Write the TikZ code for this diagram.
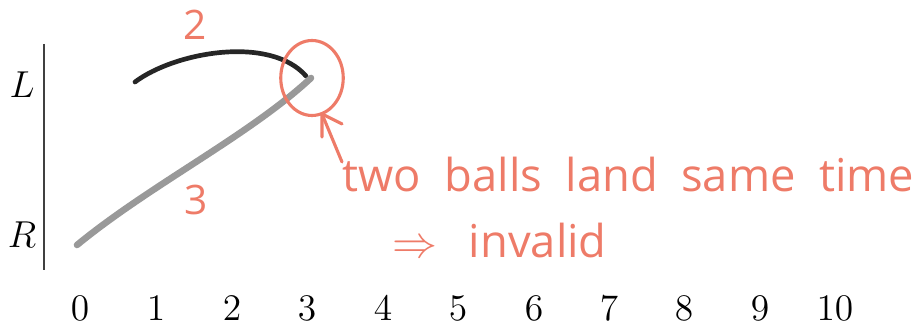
\documentclass[tikz,border=0pt]{standalone}
\usepackage{fontspec}
\usetikzlibrary{shapes.geometric}
\newfontfamily\handfont{Open Sans}
\definecolor{salmon}{HTML}{EE7B68}
\newcommand{\wsp}{\hspace{7.5pt}}
\tikzset{
  every node/.style={inner sep=0pt},
  axislabel/.style={font=\fontsize{12.5}{15}\selectfont},
  ticklabel/.style={font=\fontsize{12.5}{15}\selectfont},
  pencildark/.style={draw=black!85, line width=1.5pt, line cap=round, line join=round},
  pencillight/.style={draw=black!40, line width=2.1pt, line cap=round, line join=round},
  marker/.style={draw=salmon, line width=1pt, line cap=round, line join=round},
  handnote/.style={text=salmon, font=\handfont\fontsize{14.5}{17}\selectfont, anchor=base west},
  handnum/.style={text=salmon, font=\handfont\fontsize{13}{15}\selectfont}
}
\begin{document}
\begin{tikzpicture}[x=0.32pt, y=-0.32pt]
\useasboundingbox (0,0) rectangle (917,326);
% axis
\coordinate (atop) at (44,44);
\coordinate (abot) at (44,270);
\draw[black!75, line width=0.5pt] (atop) -- (abot);
\node[axislabel] (L) at (22,85) {$L$};
\node[axislabel] (R) at (22,235) {$R$};
% ticks
\foreach \i/\x in {0/80,1/156,2/232,3/307,4/383,5/458,6/534,7/609,8/684,9/760,10/835}{
  \node[ticklabel] (t\i) at (\x,308) {$\i$};
}
% trajectories
\coordinate (s2) at (135,82);
\coordinate (land) at (311,78);
\coordinate (s3) at (77,245);
\draw[pencildark] (s2) .. controls (175,52) and (270,35) .. (306,76);
\draw[pencillight] (s3) .. controls (150,185) and (250,135) .. (land);
\node[handnum] (n2) at (195,25) {2};
\node[handnum] (n3) at (196,200) {3};
% circle
\node[marker, ellipse, minimum width=20pt, minimum height=24pt, draw] (ring) at (312,78) {};
% arrow
\coordinate (tip) at (322,114);
\coordinate (tail) at (342,162);
\draw[marker] (tail) -- (tip);
\draw[marker] (322,137) -- (tip) -- (342,124);
% note
\node[handnote] (note1) at (342,192) {two\wsp balls\wsp land\wsp same\wsp time};
\node[handnote] (note2) at (392,258) {$\Rightarrow$\hspace{10pt}invalid};
\end{tikzpicture}
\end{document}
